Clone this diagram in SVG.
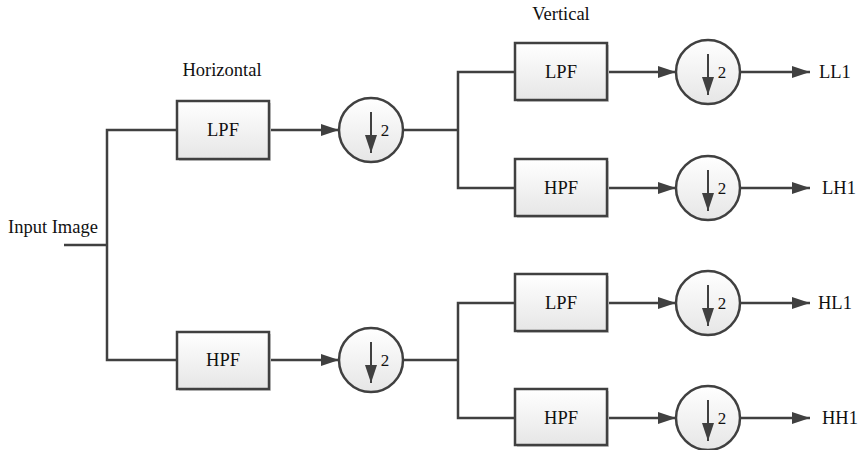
<svg xmlns="http://www.w3.org/2000/svg" width="862" height="450" viewBox="0 0 862 450">
<style>
text{font-family:"Liberation Serif","Times New Roman",serif;fill:#111;font-size:18.5px}
.lbl{text-anchor:middle}
.box{fill:url(#g);stroke:#404040;stroke-width:2.5}
.sh{fill:#d0d0d0}
.circ{fill:url(#g);stroke:#404040;stroke-width:2.5}
.ln{fill:none;stroke:#404040;stroke-width:2.5}
.arr{fill:none;stroke:#404040;stroke-width:2.5;marker-end:url(#ah)}
.dn{fill:none;stroke:#404040;stroke-width:2;marker-end:url(#ah2)}
.two{font-size:17px;text-anchor:middle}
</style>
<defs>
<linearGradient id="g" x1="0" y1="0" x2="0" y2="1">
<stop offset="0" stop-color="#ffffff"/>
<stop offset="1" stop-color="#e6e6e6"/>
</linearGradient>
<marker id="ah" markerUnits="userSpaceOnUse" markerWidth="18" markerHeight="12" refX="18" refY="6" orient="auto">
<path d="M0,0 L18,6 L0,12 z" fill="#404040"/>
</marker>
<marker id="ah2" markerUnits="userSpaceOnUse" markerWidth="18" markerHeight="12" refX="18" refY="6" orient="auto">
<path d="M0,0 L18,6 L0,12 z" fill="#404040"/>
</marker>
</defs>
<rect width="862" height="450" fill="#fff"/>

<text x="222" y="76" class="lbl">Horizontal</text>
<text x="561" y="20" class="lbl">Vertical</text>
<text x="8" y="233">Input Image</text>

<g id="connectors">
<path class="ln" d="M64,245 H107"/>
<path class="ln" d="M177,130 H107 V360 H177"/>
<path class="arr" d="M269,130 H339"/>
<path class="arr" d="M269,360 H339"/>
<path class="ln" d="M403,130 H458"/>
<path class="ln" d="M515,72 H458 V188 H515"/>
<path class="ln" d="M403,360 H458"/>
<path class="ln" d="M515,303 H458 V418 H515"/>
<path class="arr" d="M607,72 H676"/>
<path class="arr" d="M607,188 H676"/>
<path class="arr" d="M607,303 H676"/>
<path class="arr" d="M607,418 H676"/>
<path class="arr" d="M740,72 H810"/>
<path class="arr" d="M740,188 H810"/>
<path class="arr" d="M740,303 H810"/>
<path class="arr" d="M740,418 H810"/>
</g>

<g id="h_lpf"><rect class="sh" x="179" y="103" width="92" height="58"/><rect class="box" x="177" y="101" width="92" height="58"/><text x="223" y="136" class="lbl">LPF</text></g>
<g id="h_hpf"><rect class="sh" x="179" y="334" width="92" height="57"/><rect class="box" x="177" y="332" width="92" height="57"/><text x="223" y="366" class="lbl">HPF</text></g>

<g id="ds_h1"><circle class="circ" cx="371" cy="130" r="32"/><path class="dn" d="M371,112 V153"/><text x="385" y="136" class="two">2</text></g>
<g id="ds_h2"><circle class="circ" cx="371" cy="360" r="32"/><path class="dn" d="M371,342 V383"/><text x="385" y="366" class="two">2</text></g>

<g id="v_lpf1"><rect class="sh" x="517" y="45" width="92" height="57"/><rect class="box" x="515" y="43" width="92" height="57"/><text x="561" y="78" class="lbl">LPF</text></g>
<g id="v_hpf1"><rect class="sh" x="517" y="161" width="92" height="57"/><rect class="box" x="515" y="159" width="92" height="57"/><text x="561" y="194" class="lbl">HPF</text></g>
<g id="v_lpf2"><rect class="sh" x="517" y="276" width="92" height="57"/><rect class="box" x="515" y="274" width="92" height="57"/><text x="561" y="309" class="lbl">LPF</text></g>
<g id="v_hpf2"><rect class="sh" x="517" y="391" width="92" height="56"/><rect class="box" x="515" y="389" width="92" height="56"/><text x="561" y="424" class="lbl">HPF</text></g>

<g id="ds_v1"><circle class="circ" cx="708" cy="72" r="32"/><path class="dn" d="M708,54 V95"/><text x="722" y="78" class="two">2</text></g>
<g id="ds_v2"><circle class="circ" cx="708" cy="188" r="32"/><path class="dn" d="M708,170 V211"/><text x="722" y="194" class="two">2</text></g>
<g id="ds_v3"><circle class="circ" cx="708" cy="303" r="32"/><path class="dn" d="M708,285 V326"/><text x="722" y="309" class="two">2</text></g>
<g id="ds_v4"><circle class="circ" cx="708" cy="418" r="32"/><path class="dn" d="M708,400 V441"/><text x="722" y="424" class="two">2</text></g>

<g id="out_ll1"><text x="819" y="78">LL1</text></g>
<g id="out_lh1"><text x="822" y="194">LH1</text></g>
<g id="out_hl1"><text x="818" y="309">HL1</text></g>
<g id="out_hh1"><text x="822" y="424">HH1</text></g>
</svg>
